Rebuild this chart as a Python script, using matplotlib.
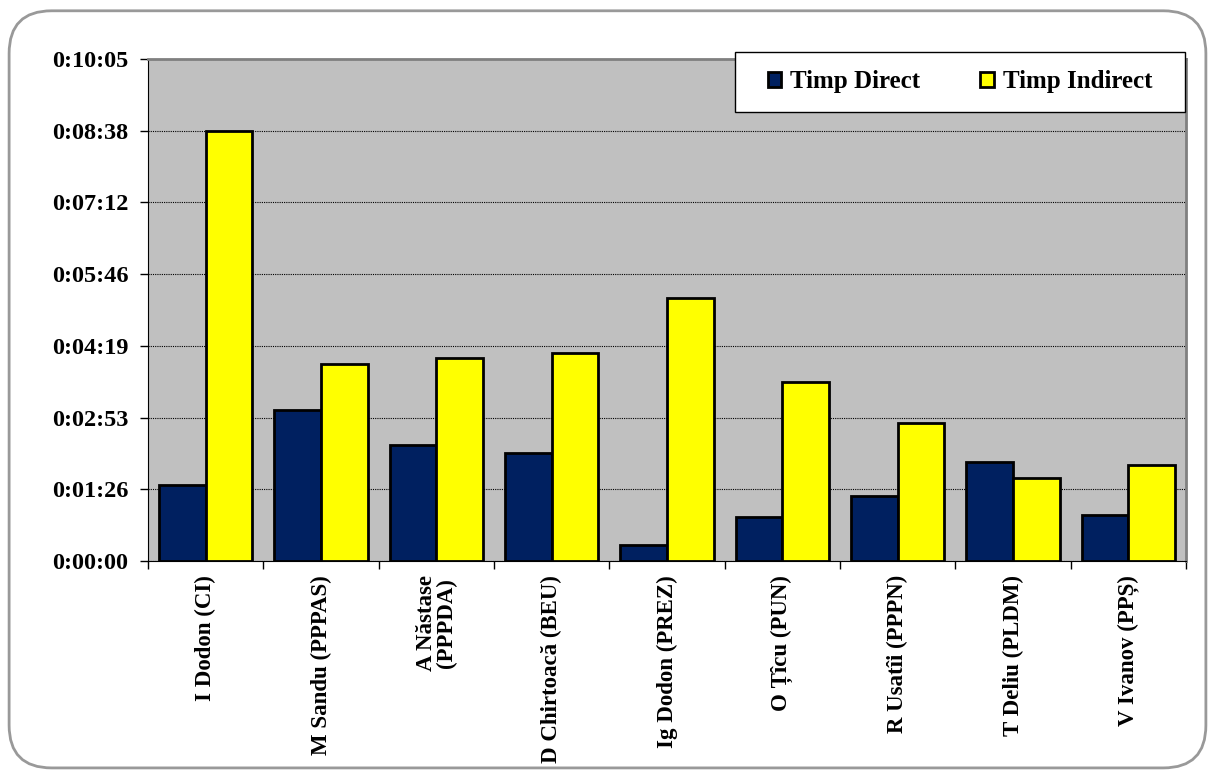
import numpy as np
import matplotlib.pyplot as plt
from matplotlib.patches import FancyBboxPatch, Rectangle
from matplotlib.ticker import FixedLocator, FuncFormatter

plt.rcParams['font.family'] = ['Liberation Serif', 'DejaVu Serif']
plt.rcParams['font.weight'] = 'bold'

# candidates and times (seconds)
candidates = ['I Dodon (CI)', 'M Sandu (PPPAS)', 'A Năstase\n(PPPDA)', 'D Chirtoacă (BEU)',
              'Ig Dodon (PREZ)', 'O Țîcu (PUN)', 'R Usatîi (PPPN)', 'T Deliu (PLDM)', 'V Ivanov (PPȘ)']
timp_direct = [92, 182, 140, 130, 19, 53, 78, 119, 55]
timp_indirect = [518, 237, 245, 251, 317, 216, 166, 100, 116]
series_names = ['Timp Direct', 'Timp Indirect']


def hms(v, pos=None):
    s = int(round(v))
    return '%d:%02d:%02d' % (s // 3600, (s % 3600) // 60, s % 60)


fig = plt.figure(figsize=(12.15, 7.71), dpi=100)

# outer rounded frame
frame = FancyBboxPatch((0.0075, 0.004), 0.985, 0.982, boxstyle='round,pad=0,rounding_size=0.035',
                       transform=fig.transFigure, facecolor='white', edgecolor='#999999',
                       linewidth=2, mutation_aspect=1.58, zorder=-5)
fig.patches.append(frame)

ax = fig.add_axes([0.1218, 0.2724, 0.8543, 0.6511])
ax.set_facecolor('#c0c0c0')

x = np.arange(len(candidates))
w = 0.405
ax.bar(x - w / 2, timp_direct, w, color='#002060', edgecolor='black', linewidth=2,
       label=series_names[0], zorder=3)
ax.bar(x + w / 2, timp_indirect, w, color='#ffff00', edgecolor='black', linewidth=2,
       label=series_names[1], zorder=3)

ax.set_xlim(-0.5, len(candidates) - 0.5)
ax.set_ylim(0, 604.8)

yt = np.arange(8) * 86.4
ax.yaxis.set_major_locator(FixedLocator(yt))
ax.yaxis.set_major_formatter(FuncFormatter(hms))
ax.grid(axis='y', color='black', linestyle=(0, (1, 1)), linewidth=0.8, zorder=1)

ax.xaxis.set_major_locator(FixedLocator(np.arange(len(candidates) + 1) - 0.5))
ax.xaxis.set_major_formatter(FuncFormatter(lambda v, p: ''))
ax.xaxis.set_minor_locator(FixedLocator(x))
ax.set_xticklabels(candidates, minor=True, rotation=90, va='top', ha='center',
                   fontsize=16.5, fontweight='bold', linespacing=0.95)
ax.tick_params(axis='x', which='minor', length=0, pad=10)
ax.tick_params(axis='x', which='major', length=6, width=1, direction='out')
ax.tick_params(axis='y', length=6, width=1, labelsize=17.5, pad=8)

ax.spines['left'].set_color('black')
ax.spines['bottom'].set_color('black')
ax.spines['top'].set_color('#808080')
ax.spines['right'].set_color('#808080')
ax.spines['top'].set_linewidth(2)
ax.spines['right'].set_linewidth(2)

# legend box
box = Rectangle((0.5655, 0.8944), 0.4335, 0.1195, transform=ax.transAxes, clip_on=False,
                facecolor='white', edgecolor='black', linewidth=1, zorder=4)
ax.add_patch(box)
leg = ax.legend(loc='center', bbox_to_anchor=(0.5655 + 0.4335 / 2, 0.8944 + 0.1195 / 2), ncol=2,
                fontsize=18, frameon=False, handlelength=0.55, handleheight=0.55,
                handletextpad=0.35, columnspacing=2.4, borderaxespad=0, borderpad=0)
leg.set_zorder(5)

fig.savefig('out.png', dpi=100)
